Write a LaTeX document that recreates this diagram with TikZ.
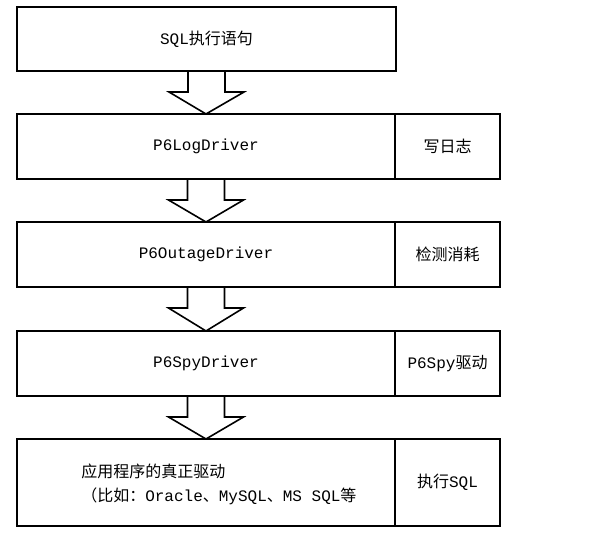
\documentclass[tikz,border=0pt]{standalone}
\usepackage{fontspec}
\setmainfont{Liberation Mono}
\newfontfamily\cjk{Noto Sans CJK SC}
\usepackage{tikz}
\usetikzlibrary{calc}
\tikzstyle{stage}=[rectangle,draw,line width=1.2pt,outer sep=0pt,inner sep=0pt,minimum width=283.5pt,minimum height=48.75pt,font=\fontsize{12}{14}\selectfont]
\tikzstyle{note}=[stage,minimum width=78.75pt]
\tikzstyle{flow}=[draw,line width=1.2pt,line join=miter]
\newcommand{\flowarrow}[2]{%
  \draw[flow] ($(#1.south)+(-18.5,0)$) -- ++(0,21) -- ++(-19,0) -- (#2.north)
    -- ($(#1.south)+(37.5,21)$) -- ++(-19,0) -- ($(#1.south)+(18.5,0)$);}

\begin{document}
\begin{tikzpicture}[x=0.75pt,y=-0.75pt]
      \useasboundingbox (0,0) rectangle (603,541);
      \node[stage,minimum width=284.25pt,minimum height=48pt] (sql) at (206.5,39) {SQL{\cjk 执行语句}};
      \node[stage] (log) at (206,146.5) {P6LogDriver};
      \node[note] (lognote) at (447.5,146.5) {\cjk 写日志};
      \node[stage] (outage) at (206,254.5) {P6OutageDriver};
      \node[note] (outagenote) at (447.5,254.5) {\cjk 检测消耗};
      \node[stage] (spy) at (206,363.5) {P6SpyDriver};
      \node[note] (spynote) at (447.5,363.5) {P6Spy{\cjk 驱动}};
      \node[stage,minimum height=65.25pt] (real) at (206,482.5) {};
      \node[note,minimum height=65.25pt] (realnote) at (447.5,482.5) {{\cjk 执行}SQL};
      \node[anchor=west,align=left,inner sep=0pt,font=\fontsize{12}{14}\selectfont] (realtext) at (81,484.5)
        {{\cjk 应用程序的真正驱动}\\[4.5pt]{\cjk （比如：}Oracle{\cjk 、}MySQL{\cjk 、}MS SQL{\cjk 等}};
      \flowarrow{sql}{log}
      \flowarrow{log}{outage}
      \flowarrow{outage}{spy}
      \flowarrow{spy}{real}
      \end{tikzpicture}
\end{document}
